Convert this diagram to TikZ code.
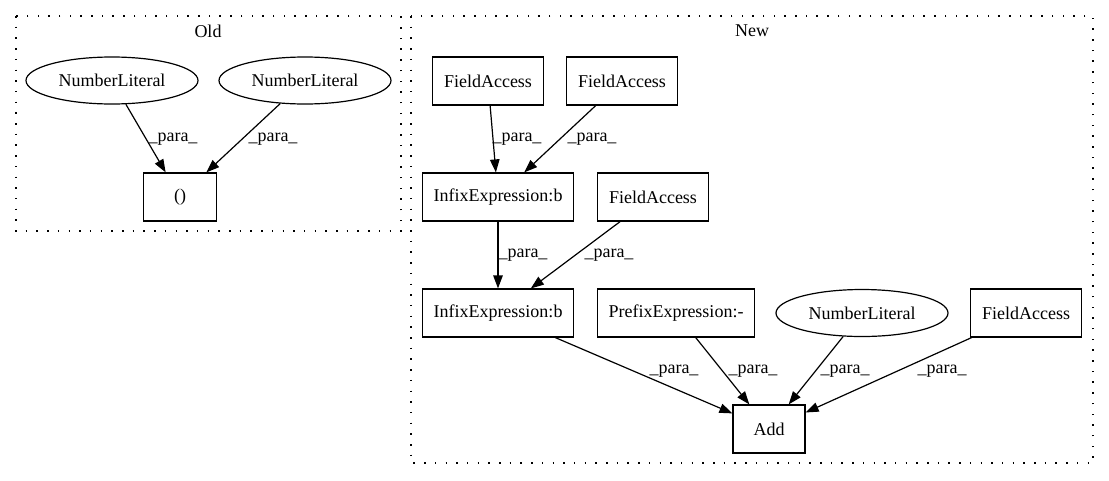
\documentclass[tikz,border=0pt]{standalone}
\usepackage{fontspec}
\setmainfont{Liberation Serif}
\usetikzlibrary{shapes.geometric,arrows.meta}
\begin{document}
\begin{tikzpicture}[x=1pt,y=-1pt,
  every node/.style={font=\fontsize{18}{21}\selectfont, inner sep=0pt},
  box/.style={draw, line width=1.2pt, rectangle, minimum height=48pt},
  ell/.style={draw, line width=1.2pt, ellipse, minimum width=172pt, minimum height=47pt},
  cluster/.style={draw, line width=1.2pt, dash pattern=on 1.5pt off 9.2pt},
  edge/.style={draw, line width=1.2pt, -{Triangle[length=13pt,width=9.5pt]}},
  lbl/.style={}
]
\useasboundingbox (0,0) rectangle (1109,480);
\fill[white] (0,0) rectangle (1109,480);
% clusters
\draw[cluster] (16,16) rectangle (401,231);
\draw[cluster] (411,16) rectangle (1093,463);
\node (told) at (208,31) {Old};
\node (tnew) at (752,31) {New};
% Old nodes
\node[ell] (onl1) at (112,80.5) {NumberLiteral};
\node[ell] (onl2) at (305,80.5) {NumberLiteral};
\node[box, minimum width=73pt] (opar) at (180,197) {()};
% New nodes
\node[box, minimum width=111pt] (fa1) at (488,81) {FieldAccess};
\node[box, minimum width=111pt] (fa2) at (622,81) {FieldAccess};
\node[box, minimum width=151pt] (ie1) at (498,197) {InfixExpression:b};
\node[box, minimum width=111pt] (fa3) at (653,197) {FieldAccess};
\node[box, minimum width=151pt] (ie2) at (498,313) {InfixExpression:b};
\node[box, minimum width=157pt] (pre) at (676,313) {PrefixExpression:-};
\node[ell] (nnl) at (862,313) {NumberLiteral};
\node[box, minimum width=111pt] (fa4) at (1026,313) {FieldAccess};
\node[box, minimum width=72pt] (add) at (769,429) {Add};
% edges
\draw[edge] (onl1) -- (opar);
\draw[edge] (onl2) -- (opar);
\draw[edge] (fa1) -- (ie1);
\draw[edge] (fa2) -- (ie1);
\draw[edge] (ie1) -- (ie2);
\draw[edge] (fa3) -- (ie2);
\draw[edge] (ie2) -- (add);
\draw[edge] (pre) -- (add);
\draw[edge] (nnl) -- (add);
\draw[edge] (fa4) -- (add);
% labels
\node[lbl] (l1) at (173,139) {\_para\_};
\node[lbl] (l2) at (273,139) {\_para\_};
\node[lbl] (l3) at (517,139) {\_para\_};
\node[lbl] (l4) at (592,139) {\_para\_};
\node[lbl] (l5) at (523,255) {\_para\_};
\node[lbl] (l6) at (609,255) {\_para\_};
\node[lbl] (l7) at (674,371) {\_para\_};
\node[lbl] (l8) at (753,371) {\_para\_};
\node[lbl] (l9) at (845,371) {\_para\_};
\node[lbl] (l10) at (942,371) {\_para\_};
\end{tikzpicture}
\end{document}
